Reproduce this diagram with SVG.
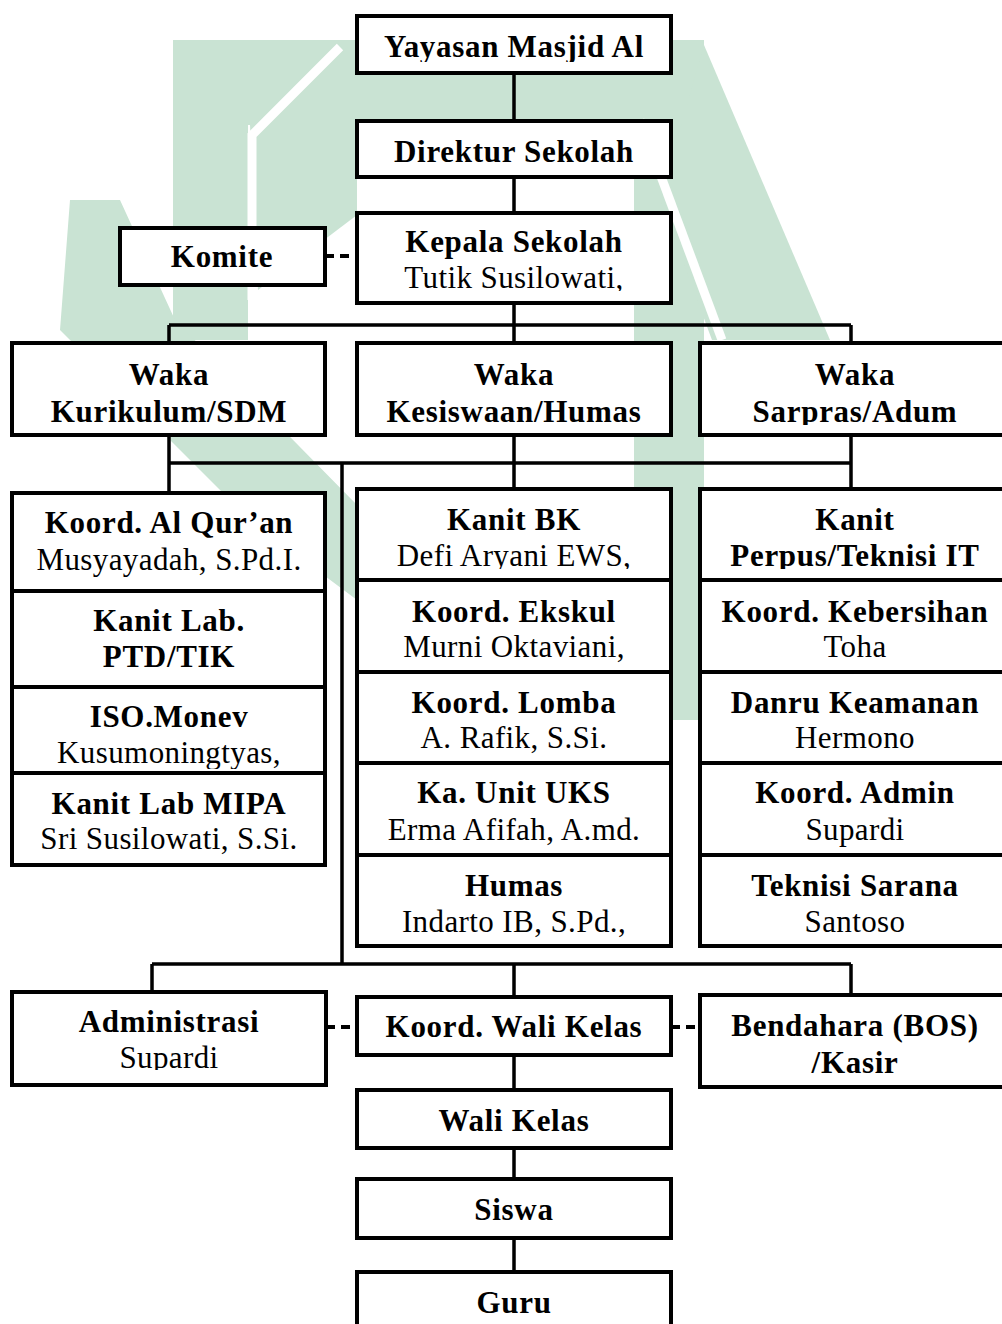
<svg xmlns="http://www.w3.org/2000/svg" width="1002" height="1324" viewBox="0 0 1002 1324">
<style>
.bg{fill:#ffffff}
.wm{fill:#c9e3d3}
.wmcut{fill:none;stroke:#ffffff;stroke-width:9}
.box{fill:#ffffff;stroke:#000000;stroke-width:4}
.ln{fill:none;stroke:#000000;stroke-width:3.5}
.dash{fill:none;stroke:#000000;stroke-width:4;stroke-dasharray:9 6}
.b{font-family:"Liberation Serif","Times New Roman",serif;font-weight:bold;font-size:31px;letter-spacing:0.7px;text-anchor:middle;fill:#000000}
.r{font-family:"Liberation Serif","Times New Roman",serif;font-size:31px;letter-spacing:0.4px;text-anchor:middle;fill:#000000}
</style>
<defs>
<clipPath id="c-yay"><rect x="357" y="16" width="314" height="46"/></clipPath>
<clipPath id="c-kep"><rect x="357" y="213" width="314" height="78"/></clipPath>
<clipPath id="c-waka3"><rect x="700" y="343" width="312" height="82"/></clipPath>
<clipPath id="c-kanit"><rect x="700" y="489" width="312" height="80"/></clipPath>
<clipPath id="c-bk"><rect x="357" y="489" width="314" height="80"/></clipPath>
<clipPath id="c-iso"><rect x="12" y="687" width="313" height="82"/></clipPath>
<clipPath id="c-adm"><rect x="12" y="992" width="314" height="78"/></clipPath>
</defs>
<rect class="bg" x="0" y="0" width="1002" height="1324"/>
<g id="watermark">
<rect class="wm" x="173" y="40" width="531" height="85"/>
<rect class="wm" x="173" y="40" width="75" height="300"/>
<polygon class="wm" points="250,125 357,40 357,215 258,290"/>
<polygon class="wm" points="70,200 120,200 175,320 357,505 357,600 250,520 60,330"/>
<rect class="wm" x="634" y="40" width="70" height="680"/>
<polygon class="wm" points="704,45 830,340 712,340 660,200"/>
<polyline class="wmcut" points="252,300 252,135 340,47"/>
<line class="wmcut" x1="640" y1="120" x2="722" y2="340"/>
</g>
<g id="connectors">
<path class="ln" d="M514 73 V121 M514 177 V213 M514 303 V325 M169 325 H851 M169 325 V343 M514 325 V343 M851 325 V343"/>
<path class="ln" d="M169 435 V493 M514 435 V489 M851 435 V489 M169 463 H851"/>
<path class="ln" d="M342 463 V964 M152 964 H851 M152 964 V992 M514 964 V997 M851 964 V995"/>
<path class="ln" d="M514 1055 V1090 M514 1148 V1179 M514 1238 V1272"/>
<path class="dash" d="M325 256 H358 M326 1027 H358 M671 1027 H700"/>
</g>
<g id="yayasan"><rect class="box" x="357" y="16" width="314" height="57"/><text class="b" x="514" y="57" clip-path="url(#c-yay)">Yayasan Masjid Al</text></g>
<g id="direktur"><rect class="box" x="357" y="121" width="314" height="56"/><text class="b" x="514" y="162">Direktur Sekolah</text></g>
<g id="kepala"><rect class="box" x="357" y="213" width="314" height="90"/><text class="b" x="514" y="252">Kepala Sekolah</text><text class="r" x="514" y="288" clip-path="url(#c-kep)">Tutik Susilowati,</text></g>
<g id="komite"><rect class="box" x="120" y="228" width="205" height="57"/><text class="b" x="222" y="267">Komite</text></g>
<g id="waka-kurikulum"><rect class="box" x="12" y="343" width="313" height="92"/><text class="b" x="169" y="385">Waka</text><text class="b" x="169" y="422">Kurikulum/SDM</text></g>
<g id="waka-kesiswaan"><rect class="box" x="357" y="343" width="314" height="92"/><text class="b" x="514" y="385">Waka</text><text class="b" x="514" y="422">Kesiswaan/Humas</text></g>
<g id="waka-sarpras"><rect class="box" x="700" y="343" width="312" height="92"/><text class="b" x="855" y="385">Waka</text><text class="b" x="855" y="422" clip-path="url(#c-waka3)">Sarpras/Adum</text></g>
<g id="koord-alquran"><rect class="box" x="12" y="493" width="313" height="98"/><text class="b" x="169" y="533">Koord. Al Qur’an</text><text class="r" x="169" y="570">Musyayadah, S.Pd.I.</text></g>
<g id="kanit-lab-ptd"><rect class="box" x="12" y="591" width="313" height="96"/><text class="b" x="169" y="631">Kanit Lab.</text><text class="b" x="169" y="667">PTD/TIK</text></g>
<g id="iso-monev"><rect class="box" x="12" y="687" width="313" height="86"/><text class="b" x="169" y="727">ISO.Monev</text><text class="r" x="169" y="763" clip-path="url(#c-iso)">Kusumoningtyas,</text></g>
<g id="kanit-lab-mipa"><rect class="box" x="12" y="773" width="313" height="92"/><text class="b" x="169" y="814">Kanit Lab MIPA</text><text class="r" x="169" y="849">Sri Susilowati, S.Si.</text></g>
<g id="kanit-bk"><rect class="box" x="357" y="489" width="314" height="91"/><text class="b" x="514" y="530">Kanit BK</text><text class="r" x="514" y="566" clip-path="url(#c-bk)">Defi Aryani EWS,</text></g>
<g id="koord-ekskul"><rect class="box" x="357" y="580" width="314" height="92"/><text class="b" x="514" y="622">Koord. Ekskul</text><text class="r" x="514" y="657">Murni Oktaviani,</text></g>
<g id="koord-lomba"><rect class="box" x="357" y="672" width="314" height="91"/><text class="b" x="514" y="713">Koord. Lomba</text><text class="r" x="514" y="748">A. Rafik, S.Si.</text></g>
<g id="ka-unit-uks"><rect class="box" x="357" y="763" width="314" height="92"/><text class="b" x="514" y="803">Ka. Unit UKS</text><text class="r" x="514" y="840">Erma Afifah, A.md.</text></g>
<g id="humas"><rect class="box" x="357" y="855" width="314" height="91"/><text class="b" x="514" y="896">Humas</text><text class="r" x="514" y="932">Indarto IB, S.Pd.,</text></g>
<g id="kanit-perpus"><rect class="box" x="700" y="489" width="312" height="91"/><text class="b" x="855" y="530">Kanit</text><text class="b" x="855" y="566" clip-path="url(#c-kanit)">Perpus/Teknisi IT</text></g>
<g id="koord-kebersihan"><rect class="box" x="700" y="580" width="312" height="92"/><text class="b" x="855" y="622">Koord. Kebersihan</text><text class="r" x="855" y="657">Toha</text></g>
<g id="danru-keamanan"><rect class="box" x="700" y="672" width="312" height="91"/><text class="b" x="855" y="713">Danru Keamanan</text><text class="r" x="855" y="748">Hermono</text></g>
<g id="koord-admin"><rect class="box" x="700" y="763" width="312" height="92"/><text class="b" x="855" y="803">Koord. Admin</text><text class="r" x="855" y="840">Supardi</text></g>
<g id="teknisi-sarana"><rect class="box" x="700" y="855" width="312" height="91"/><text class="b" x="855" y="896">Teknisi Sarana</text><text class="r" x="855" y="932">Santoso</text></g>
<g id="administrasi"><rect class="box" x="12" y="992" width="314" height="93"/><text class="b" x="169" y="1032">Administrasi</text><text class="r" x="169" y="1068" clip-path="url(#c-adm)">Supardi</text></g>
<g id="koord-wali-kelas"><rect class="box" x="357" y="997" width="314" height="58"/><text class="b" x="514" y="1037">Koord. Wali Kelas</text></g>
<g id="bendahara"><rect class="box" x="700" y="995" width="312" height="92"/><text class="b" x="855" y="1036">Bendahara (BOS)</text><text class="b" x="855" y="1073">/Kasir</text></g>
<g id="wali-kelas"><rect class="box" x="357" y="1090" width="314" height="58"/><text class="b" x="514" y="1131">Wali Kelas</text></g>
<g id="siswa"><rect class="box" x="357" y="1179" width="314" height="59"/><text class="b" x="514" y="1220">Siswa</text></g>
<g id="guru"><rect class="box" x="357" y="1272" width="314" height="70"/><text class="b" x="514" y="1313">Guru</text></g>
</svg>
